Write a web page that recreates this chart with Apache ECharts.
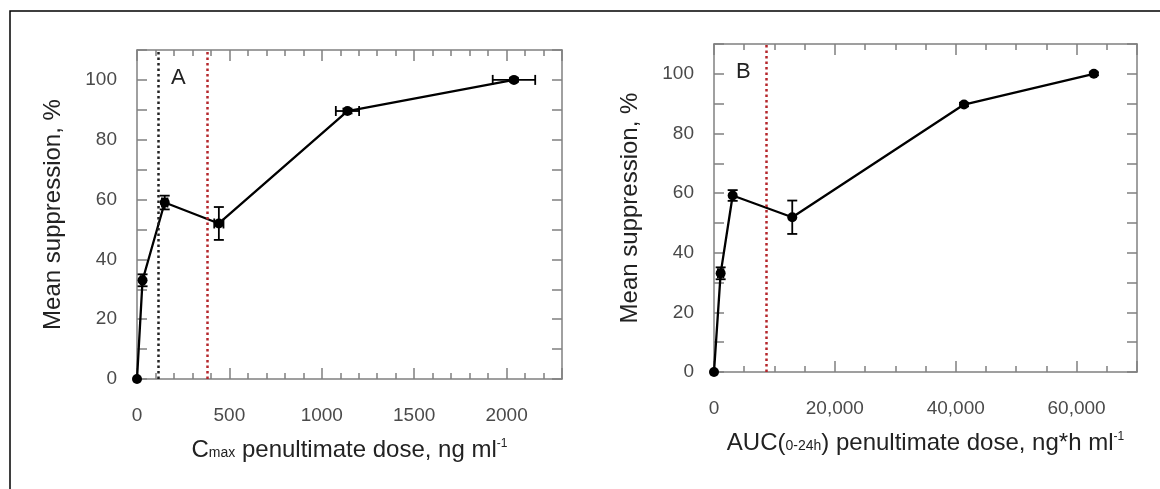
<!DOCTYPE html>
<html><head><meta charset="utf-8">
<script src="https://cdn.jsdelivr.net/npm/echarts@6/dist/echarts.min.js"></script>
<style>html,body{margin:0;padding:0;background:#fff}#c{width:1160px;height:489px}</style>
</head><body><div id="c"></div>
<script>
// ---- Panel A data (Cmax) ----
const xA = [0, 30, 150, 443, 1139, 2040];
const yA = [0, 33, 59, 52, 89.6, 100];
const xErrA = [0, 10, 15, 25, 63, 115];
const yErrA = [0, 2, 2.3, 5.5, 0.8, 0.6];
const refA = [117, 380];            // vertical dotted lines (black, red)
const xLabelsA = [0, 500, 1000, 1500, 2000];
// ---- Panel B data (AUC) ----
const xB = [0, 1100, 3090, 12950, 41370, 62860];
const yB = [0, 33.1, 59.2, 51.9, 89.7, 100];
const xErrB = [0, 450, 0, 0, 0, 0];
const yErrB = [0, 2, 1.8, 5.6, 0.6, 0.5];
const refB = [8700];                // vertical dotted line (red)
const xLabelsB = [0, 20000, 40000, 60000];
const yLabels = [0, 20, 40, 60, 80, 100];

const FONT = 'Liberation Sans, Arial, sans-serif';
const AXC = '#808080';
const LBL = '#4a4a4a';
const TTL = '#222';

function fmtComma(v){ return String(v).replace(/\B(?=(\d{3})+(?!\d))/g, ','); }

function errRender(params, api){
  const x = api.value(0), y = api.value(1), ex = api.value(2), ey = api.value(3);
  const ch = [];
  const st = {stroke:'#000', lineWidth:1.8};
  const cap = 5;
  if (ey > 0){
    const t = api.coord([x, y+ey]), b = api.coord([x, y-ey]);
    ch.push({type:'line', shape:{x1:t[0],y1:t[1],x2:b[0],y2:b[1]}, style:st});
    ch.push({type:'line', shape:{x1:t[0]-cap,y1:t[1],x2:t[0]+cap,y2:t[1]}, style:st});
    ch.push({type:'line', shape:{x1:b[0]-cap,y1:b[1],x2:b[0]+cap,y2:b[1]}, style:st});
  }
  if (ex > 0){
    const l = api.coord([x-ex, y]), r = api.coord([x+ex, y]);
    ch.push({type:'line', shape:{x1:l[0],y1:l[1],x2:r[0],y2:r[1]}, style:st});
    ch.push({type:'line', shape:{x1:l[0],y1:l[1]-cap,x2:l[0],y2:l[1]+cap}, style:st});
    ch.push({type:'line', shape:{x1:r[0],y1:r[1]-cap,x2:r[0],y2:r[1]+cap}, style:st});
  }
  return {type:'group', children: ch};
}

const LINE = {show:true, onZero:false, lineStyle:{color:AXC, width:1.5}};
const NOLINE = {show:false, onZero:false};

function xAxes(grid, max, minorInt, majorInt, labels, fmt, name){
  return [
    {type:'value', gridIndex:grid, position:'bottom', min:0, max:max, interval:minorInt,
     axisLine:LINE, splitLine:{show:false},
     axisTick:{inside:true, length:6, lineStyle:{color:AXC, width:1.5}},
     axisLabel:{color:LBL, fontSize:19, fontFamily:FONT, margin:27,
       formatter: v => labels.includes(v) ? fmt(v) : ''},
     name:name, nameLocation:'middle', nameGap:59,
     nameTextStyle:{color:TTL, fontFamily:FONT, fontSize:24,
       rich:{n:{fontSize:24, color:TTL, fontFamily:FONT},
             s:{fontSize:14, color:TTL, fontFamily:FONT, verticalAlign:'bottom', padding:[0,0,2,0]},
             u:{fontSize:12, color:TTL, fontFamily:FONT, verticalAlign:'top'}}}},
    {type:'value', gridIndex:grid, position:'top', min:0, max:max, interval:minorInt,
     axisLine:LINE, splitLine:{show:false}, axisLabel:{show:false},
     axisTick:{inside:true, length:6, lineStyle:{color:AXC, width:1.5}}},
    {type:'value', gridIndex:grid, position:'bottom', min:0, max:max, interval:majorInt,
     axisLine:NOLINE, splitLine:{show:false}, axisLabel:{show:false},
     axisTick:{inside:true, length:11, lineStyle:{color:AXC, width:1.5}}},
    {type:'value', gridIndex:grid, position:'top', min:0, max:max, interval:majorInt,
     axisLine:NOLINE, splitLine:{show:false}, axisLabel:{show:false},
     axisTick:{inside:true, length:11, lineStyle:{color:AXC, width:1.5}}}
  ];
}
function yAxes(grid){
  return [
    {type:'value', gridIndex:grid, position:'left', min:0, max:110, interval:10,
     axisLine:LINE, splitLine:{show:false},
     axisTick:{inside:true, length:10, lineStyle:{color:AXC, width:1.5}},
     axisLabel:{color:LBL, fontSize:19, fontFamily:FONT, margin:20,
       formatter: v => yLabels.includes(v) ? String(v) : ''},
     name:'Mean suppression, %', nameLocation:'middle', nameGap:72,
     nameTextStyle:{color:TTL, fontSize:24, fontFamily:FONT}},
    {type:'value', gridIndex:grid, position:'right', min:0, max:110, interval:10,
     axisLine:LINE, splitLine:{show:false}, axisLabel:{show:false},
     axisTick:{inside:true, length:10, lineStyle:{color:AXC, width:1.5}}}
  ];
}

function refLines(vals, colors){
  return {silent:true, symbol:['none','none'], label:{show:false},
    data: vals.map((v,i)=>({xAxis:v, lineStyle:{color:colors[i], width:2.5, type:[2.5,3]}}))};
}

const option = {
  animation:false,
  backgroundColor:'#fff',
  grid:[
    {left:137, top:50, width:425, height:329},
    {left:714, top:44, width:423, height:328}
  ],
  xAxis:[
    ...xAxes(0, 2300, 100, 500, xLabelsA, v=>String(v),
      '{n|C}{s|max}{n| penultimate dose, ng ml}{u|-1}'),
    ...xAxes(1, 70000, 5000, 20000, xLabelsB, fmtComma,
      '{n|AUC(}{s|0-24h}{n|) penultimate dose, ng*h ml}{u|-1}')
  ],
  yAxis:[...yAxes(0), ...yAxes(1)],
  graphic:[
    {type:'polyline', shape:{points:[[10,489],[10,11],[1160,11]]}, style:{stroke:'#000', lineWidth:1.5, fill:null}},
    {type:'text', left:171, top:67, style:{text:'A', fontSize:22, fontFamily:FONT, fill:TTL}},
    {type:'text', left:736, top:61, style:{text:'B', fontSize:22, fontFamily:FONT, fill:TTL}}
  ],
  series:[
    {type:'line', xAxisIndex:0, yAxisIndex:0, data:xA.map((x,i)=>[x,yA[i]]),
     symbol:'circle', symbolSize:10, itemStyle:{color:'#000'}, lineStyle:{color:'#000', width:2.3},
     markLine: refLines(refA, ['#222', '#b5262b'])},
    {type:'custom', xAxisIndex:0, yAxisIndex:0, renderItem:errRender,
     data:xA.map((x,i)=>[x,yA[i],xErrA[i],yErrA[i]]), z:3},
    {type:'line', xAxisIndex:4, yAxisIndex:2, data:xB.map((x,i)=>[x,yB[i]]),
     symbol:'circle', symbolSize:10, itemStyle:{color:'#000'}, lineStyle:{color:'#000', width:2.3},
     markLine: refLines(refB, ['#b5262b'])},
    {type:'custom', xAxisIndex:4, yAxisIndex:2, renderItem:errRender,
     data:xB.map((x,i)=>[x,yB[i],xErrB[i],yErrB[i]]), z:3}
  ]
};
const chart = echarts.init(document.getElementById('c'), null, {renderer:'canvas'});
chart.setOption(option);
</script></body></html>
